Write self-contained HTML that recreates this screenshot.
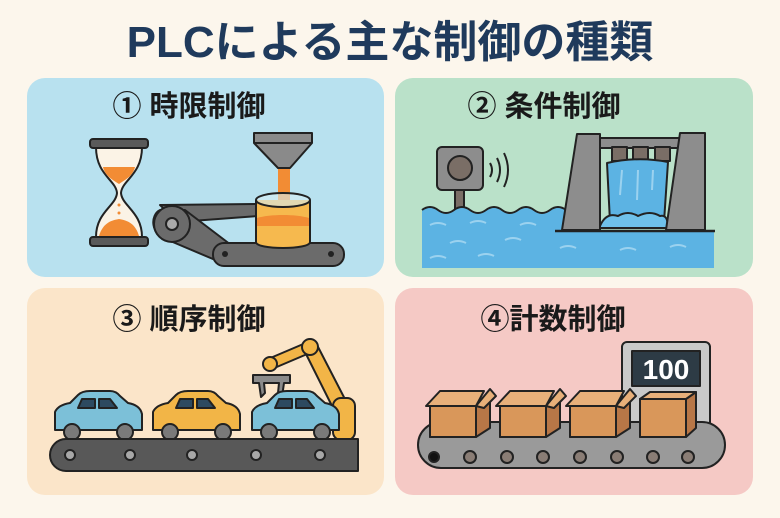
<!DOCTYPE html>
<html><head><meta charset="utf-8"><style>
body{margin:0;background:#fcf6ec;}
svg{display:block}
text{font-family:"Liberation Sans","Noto Sans CJK JP",sans-serif;font-weight:bold}
</style></head><body>
<svg width="780" height="518" viewBox="0 0 780 518" xmlns="http://www.w3.org/2000/svg">
<rect width="780" height="518" fill="#fcf6ec"/>
<text x="390" y="57" text-anchor="middle" font-size="44" fill="#1f3a5c">PLCによる主な制御の種類</text>
<!-- panels -->
<rect x="27" y="78" width="357" height="199" rx="18" fill="#b8e1ef"/>
<rect x="395" y="78" width="358" height="199" rx="18" fill="#bae1c9"/>
<rect x="27" y="288" width="357" height="207" rx="18" fill="#fbe5c9"/>
<rect x="395" y="288" width="358" height="207" rx="18" fill="#f5c9c5"/>
<g font-size="29" fill="#1a1a1a">
<text x="189" y="116" text-anchor="middle">① 時限制御</text>
<text x="544" y="116" text-anchor="middle">② 条件制御</text>
<text x="189" y="329" text-anchor="middle">③ 順序制御</text>
<text x="553" y="329" text-anchor="middle">④計数制御</text>
</g>
<g stroke="#222" stroke-width="2" stroke-linejoin="round">
<!-- Panel 1 hourglass -->
<path d="M96 147 L142 147 C142 175 122 180 121 193 C122 206 142 212 142 237 L96 237 C96 212 116 206 117 193 C116 180 96 175 96 147Z" fill="#fbf3e6"/>
<path d="M103 167 L135 167 C133 176 125 180 119 184 C113 180 105 176 103 167Z" fill="#f28c34" stroke="none"/>
<path d="M99 236 C103 222 113 220 119 219 C125 220 135 222 139 236Z" fill="#f28c34" stroke="none"/>
<circle cx="119" cy="205" r="1.5" fill="#f28c34" stroke="none"/><circle cx="119" cy="213" r="1.5" fill="#f28c34" stroke="none"/>
<rect x="90" y="139" width="58" height="9" rx="3" fill="#5a5a5a"/>
<rect x="90" y="237" width="58" height="9" rx="3" fill="#5a5a5a"/>
<!-- arm -->
<path d="M160 205 L258 204 L258 216 L178 222Z" fill="#6b6b6b"/>
<path d="M160 210 C150 215 150 235 168 240 L220 262 L235 248 L185 210Z" fill="#6b6b6b"/>
<circle cx="172" cy="224" r="18" fill="#6b6b6b"/>
<circle cx="172" cy="224" r="6" fill="#aaa"/>
<rect x="213" y="243" width="131" height="23" rx="11" fill="#6b6b6b"/>
<circle cx="225" cy="254" r="3" fill="#222" stroke="none"/><circle cx="331" cy="254" r="3" fill="#222" stroke="none"/>
<!-- funnel -->
<rect x="278" y="168" width="12" height="36" fill="#f28c34" stroke="none"/>
<path d="M254 133 L312 133 L312 143 L290 168 L278 168 L254 143Z" fill="#8a8a8a"/>
<line x1="254" y1="143" x2="312" y2="143"/>
<path d="M256 200 L256 242 C256 250 310 250 310 242 L310 200" fill="#f6b94e"/>
<path d="M257 218 C270 214 296 214 309 218 L309 226 L257 226Z" fill="#f28c34" stroke="none"/>
<ellipse cx="283" cy="200" rx="27" ry="7" fill="#d6eef5" fill-opacity="0.6"/>
<!-- Panel 2 -->
<rect x="455" y="187" width="9" height="25" fill="#7a6e66"/>
<rect x="437" y="147" width="46" height="43" rx="5" fill="#8d8d8d"/>
<circle cx="460" cy="168" r="12" fill="#7a6e66"/>
<path d="M490 163 Q494 170 490 177 M497 158 Q503 170 497 182 M504 153 Q512 170 504 187" fill="none"/>
<path d="M422 210 Q430 204 438 210 T454 210 T470 210 T486 210 T502 210 T518 210 T534 210 T550 210 T566 210 L566 230 L714 230 L714 268 L422 268Z" fill="#5cb3e3" stroke="none"/>
<path d="M422 210 Q430 204 438 210 T454 210 T470 210 T486 210 T502 210 T518 210 T534 210 T550 210 T566 210" fill="none"/>
<g stroke="#9bd2ef" stroke-width="2" fill="none">
<path d="M430 225 q8 -4 16 0 M470 223 q8 -4 16 0 M520 225 q8 -4 16 0 M450 243 q8 -4 16 0 M505 240 q8 -4 16 0 M430 258 q8 -4 16 0 M478 256 q8 -4 16 0 M560 248 q8-4 16 0 M620 250 q8 -4 16 0 M670 247 q8 -4 16 0"/>
</g>
<rect x="596" y="138" width="85" height="10" fill="#8d8d8d"/>
<rect x="612" y="147" width="15" height="14" fill="#7a6e66"/><rect x="633" y="147" width="15" height="14" fill="#7a6e66"/><rect x="655" y="147" width="15" height="14" fill="#7a6e66"/>
<path d="M607 163 Q638 156 668 162 L664 222 L610 222Z" fill="#5cb3e3"/>
<g stroke="#9bd2ef" stroke-width="2"><line x1="622" y1="170" x2="620" y2="195"/><line x1="638" y1="170" x2="637" y2="200"/><line x1="653" y1="170" x2="652" y2="190"/></g>
<path d="M600 226 Q606 212 618 216 Q628 210 638 216 Q650 210 660 216 Q668 214 668 228 L600 228Z" fill="#6fc1ea"/>
<path d="M577 134 L600 134 L600 230 L562 230Z" fill="#8d8d8d"/>
<path d="M680 133 L705 133 L705 230 L666 230Z" fill="#8d8d8d"/>
<line x1="555" y1="231" x2="715" y2="231" stroke-width="2.5"/>
<!-- Panel 3 robot -->
<path d="M348 405 L316 343 L304 350 L334 410Z" fill="#f2b547"/>
<path d="M308 342 L268 359 L272 369 L312 352Z" fill="#f2b547"/>
<rect x="333" y="398" width="22" height="42" rx="8" fill="#f2b547"/>
<circle cx="310" cy="347" r="8" fill="#f2b547"/>
<circle cx="270" cy="364" r="7" fill="#f2b547"/>
<path d="M253 375 L290 375 L290 383 L284 383 L282 397 L278 393 L279 383 L264 383 L265 393 L261 397 L259 383 L253 383Z" fill="#8a8a8a"/>
<!-- cars -->
<g>
<path d="M55 430 L55 412 Q58 405 70 403 L78 395 Q82 391 90 391 L110 391 Q116 391 120 396 L128 403 Q140 405 142 414 L142 430Z" fill="#7cc0d8"/>
<path d="M82 399 L95 399 L95 408 L78 408Z M99 399 L110 399 L117 408 L99 408Z" fill="#2d4a60"/>
<circle cx="72" cy="432" r="8" fill="#7a7a7a"/><circle cx="125" cy="432" r="8" fill="#7a7a7a"/>
</g>
<g transform="translate(98,0)">
<path d="M55 430 L55 412 Q58 405 70 403 L78 395 Q82 391 90 391 L110 391 Q116 391 120 396 L128 403 Q140 405 142 414 L142 430Z" fill="#f2b547"/>
<path d="M82 399 L95 399 L95 408 L78 408Z M99 399 L110 399 L117 408 L99 408Z" fill="#2d4a60"/>
<circle cx="72" cy="432" r="8" fill="#7a7a7a"/><circle cx="125" cy="432" r="8" fill="#7a7a7a"/>
</g>
<g transform="translate(197,0)">
<path d="M55 430 L55 412 Q58 405 70 403 L78 395 Q82 391 90 391 L110 391 Q116 391 120 396 L128 403 Q140 405 142 414 L142 430Z" fill="#7cc0d8"/>
<path d="M82 399 L95 399 L95 408 L78 408Z M99 399 L110 399 L117 408 L99 408Z" fill="#2d4a60"/>
<circle cx="72" cy="432" r="8" fill="#7a7a7a"/><circle cx="125" cy="432" r="8" fill="#7a7a7a"/>
</g>
<path d="M66 439 L358 439 L358 471 L66 471 A16 16 0 0 1 66 439Z" fill="#585858"/>
<g fill="#a8a8a8"><circle cx="70" cy="455" r="5"/><circle cx="130" cy="455" r="5"/><circle cx="192" cy="455" r="5"/><circle cx="256" cy="455" r="5"/><circle cx="320" cy="455" r="5"/></g>
<!-- Panel 4 -->
<rect x="622" y="342" width="88" height="85" rx="5" fill="#c9c9c9"/>
<rect x="632" y="351" width="68" height="35" fill="#2d3b45"/>
<rect x="418" y="422" width="307" height="46" rx="23" fill="#9a9a9a"/>
<circle cx="434" cy="457" r="5" fill="#111"/>
<g fill="#8a7d75"><circle cx="470" cy="457" r="6"/><circle cx="507" cy="457" r="6"/><circle cx="543" cy="457" r="6"/><circle cx="580" cy="457" r="6"/><circle cx="617" cy="457" r="6"/><circle cx="653" cy="457" r="6"/><circle cx="688" cy="457" r="6"/></g>
<g id="bx">
<path d="M430 406 L476 406 L490 397 L490 428 L476 437 L430 437Z" fill="#b87747"/>
<rect x="430" y="406" width="46" height="31" fill="#d9975a"/>
<path d="M426 406 L440 391 L484 391 L476 406Z" fill="#e8b07a"/>
<path d="M476 406 L490 389 L496 396 L484 408Z" fill="#e8b07a"/>
</g>
<use href="#bx" x="70"/>
<use href="#bx" x="140"/>
<path d="M640 399 L686 399 L696 392 L696 428 L686 437 L640 437Z" fill="#b87747"/>
<rect x="640" y="399" width="46" height="38" fill="#d9975a"/>
<path d="M640 399 L650 392 L696 392 L686 399Z" fill="#e8b07a"/>
</g>
<text x="666" y="379" text-anchor="middle" font-size="28" fill="#fff" font-weight="normal" font-family="Liberation Sans, sans-serif">100</text>
</svg>
</body></html>
